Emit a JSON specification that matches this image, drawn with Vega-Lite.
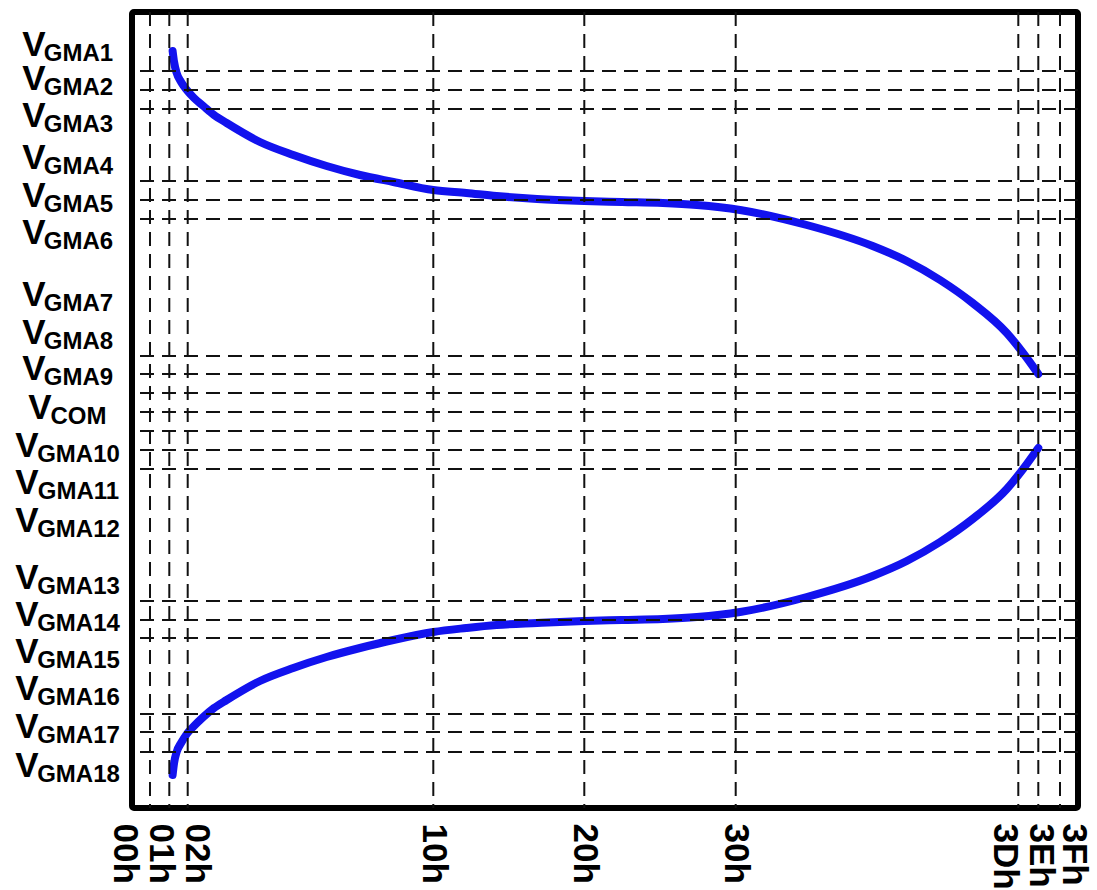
{
  "$schema": "https://vega.github.io/schema/vega-lite/v6.json",
  "width": 946,
  "height": 796,
  "autosize": "none",
  "padding": {"left": 132, "top": 12, "right": 19, "bottom": 82},
  "background": "white",
  "config": {
    "view": {"stroke": "#000000", "strokeWidth": 6, "cornerRadius": 2},
    "font": "Liberation Sans"
  },
  "datasets": {
    "curve": [
      {"branch": "upper", "code": 1.18, "v": 361},
      {"branch": "upper", "code": 1.26, "v": 350},
      {"branch": "upper", "code": 1.4, "v": 339},
      {"branch": "upper", "code": 1.64, "v": 330},
      {"branch": "upper", "code": 1.95, "v": 322},
      {"branch": "upper", "code": 2.36, "v": 314},
      {"branch": "upper", "code": 2.89, "v": 306},
      {"branch": "upper", "code": 3.5, "v": 297},
      {"branch": "upper", "code": 4.22, "v": 289},
      {"branch": "upper", "code": 6.12, "v": 270},
      {"branch": "upper", "code": 8.02, "v": 257},
      {"branch": "upper", "code": 9.92, "v": 246},
      {"branch": "upper", "code": 11.82, "v": 237},
      {"branch": "upper", "code": 13.72, "v": 230},
      {"branch": "upper", "code": 16, "v": 222},
      {"branch": "upper", "code": 19.5, "v": 219},
      {"branch": "upper", "code": 22.7, "v": 216},
      {"branch": "upper", "code": 27, "v": 213},
      {"branch": "upper", "code": 32, "v": 211},
      {"branch": "upper", "code": 36, "v": 210},
      {"branch": "upper", "code": 40.3, "v": 209},
      {"branch": "upper", "code": 43.9, "v": 207},
      {"branch": "upper", "code": 48.2, "v": 202},
      {"branch": "upper", "code": 51.27, "v": 187},
      {"branch": "upper", "code": 54.3, "v": 166},
      {"branch": "upper", "code": 55.87, "v": 151},
      {"branch": "upper", "code": 57.4, "v": 132},
      {"branch": "upper", "code": 58.9, "v": 109},
      {"branch": "upper", "code": 60.47, "v": 79},
      {"branch": "upper", "code": 61.24, "v": 59},
      {"branch": "upper", "code": 62, "v": 38},
      {"branch": "lower", "code": 1.18, "v": -363},
      {"branch": "lower", "code": 1.26, "v": -351},
      {"branch": "lower", "code": 1.4, "v": -340},
      {"branch": "lower", "code": 1.64, "v": -331},
      {"branch": "lower", "code": 1.95, "v": -322},
      {"branch": "lower", "code": 2.36, "v": -314},
      {"branch": "lower", "code": 2.89, "v": -305},
      {"branch": "lower", "code": 3.5, "v": -296},
      {"branch": "lower", "code": 4.22, "v": -288},
      {"branch": "lower", "code": 6.12, "v": -269},
      {"branch": "lower", "code": 8.02, "v": -256},
      {"branch": "lower", "code": 9.92, "v": -245},
      {"branch": "lower", "code": 11.82, "v": -236},
      {"branch": "lower", "code": 13.72, "v": -228},
      {"branch": "lower", "code": 16, "v": -220},
      {"branch": "lower", "code": 19.5, "v": -216},
      {"branch": "lower", "code": 22.7, "v": -213},
      {"branch": "lower", "code": 27, "v": -211},
      {"branch": "lower", "code": 32, "v": -209},
      {"branch": "lower", "code": 36, "v": -208},
      {"branch": "lower", "code": 40.3, "v": -207},
      {"branch": "lower", "code": 43.9, "v": -205},
      {"branch": "lower", "code": 48.2, "v": -200},
      {"branch": "lower", "code": 51.27, "v": -185},
      {"branch": "lower", "code": 54.3, "v": -164},
      {"branch": "lower", "code": 55.87, "v": -149},
      {"branch": "lower", "code": 57.4, "v": -130},
      {"branch": "lower", "code": 58.9, "v": -107},
      {"branch": "lower", "code": 60.47, "v": -77},
      {"branch": "lower", "code": 61.24, "v": -57},
      {"branch": "lower", "code": 62, "v": -36}
    ],
    "codes": [
      {"code": 0}, {"code": 1}, {"code": 2}, {"code": 16}, {"code": 32},
      {"code": 48}, {"code": 61}, {"code": 62}, {"code": 63}
    ],
    "levels": [
      {"v": 341}, {"v": 322}, {"v": 303}, {"v": 231}, {"v": 212}, {"v": 193},
      {"v": 56}, {"v": 38}, {"v": 19}, {"v": 0}, {"v": -19}, {"v": -38}, {"v": -57},
      {"v": -189}, {"v": -208}, {"v": -226}, {"v": -302}, {"v": -320}, {"v": -340}
    ]
  },
  "layer": [
    {
      "data": {"name": "curve"},
      "mark": {"type": "line", "color": "#1212ee", "strokeWidth": 8, "strokeCap": "round", "strokeJoin": "round", "interpolate": "monotone"},
      "encoding": {
        "x": {
          "field": "code",
          "type": "quantitative",
          "scale": {
            "domain": [0, 1, 2, 16, 32, 48, 61, 62, 63],
            "range": [18, 37.3, 55.7, 301.3, 452.3, 603.7, 886.3, 906.3, 928],
            "zero": false,
            "nice": false
          },
          "axis": {
            "values": [0, 1, 2, 16, 32, 48, 61, 62, 63],
            "labelExpr": "format(datum.value, '02X') + 'h'",
            "labelAngle": 90,
            "labelAlign": "left",
            "labelBaseline": "middle",
            "labelFont": "Liberation Sans",
            "labelFontWeight": "bold",
            "labelFontSize": 35,
            "labelColor": "#000000",
            "labelPadding": 15,
            "labelOverlap": false,
            "labelFlush": false,
            "labelBound": false,
            "labelOffset": {
              "condition": [
                {"test": "datum.value == 0", "value": -26},
                {"test": "datum.value == 1", "value": -9},
                {"test": "datum.value == 2", "value": 9},
                {"test": "datum.value == 61", "value": -14},
                {"test": "datum.value == 62", "value": 2},
                {"test": "datum.value == 63", "value": 13}
              ],
              "value": 0
            },
            "ticks": false,
            "tickSize": 0,
            "domain": false,
            "grid": false,
            "title": null
          }
        },
        "y": {
          "field": "v",
          "type": "quantitative",
          "scale": {"domain": [-396, 400], "zero": false, "nice": false},
          "axis": {
            "orient": "left",
            "values": [359, 325, 288, 246, 208, 171, 109, 71, 35, -4, -42, -79, -117, -174, -211, -248, -285, -323, -362],
            "labelExpr": "['GMA1','GMA2','GMA3','GMA4','GMA5','GMA6','GMA7','GMA8','GMA9','COM','GMA10','GMA11','GMA12','GMA13','GMA14','GMA15','GMA16','GMA17','GMA18'][indexof([359, 325, 288, 246, 208, 171, 109, 71, 35, -4, -42, -79, -117, -174, -211, -248, -285, -323, -362], datum.value)]",
            "labelAlign": "center",
            "labelBaseline": "middle",
            "labelFont": "Liberation Sans",
            "labelFontWeight": "bold",
            "labelFontSize": 24,
            "labelColor": "#000000",
            "labelPadding": 54,
            "labelOverlap": false,
            "labelBound": false,
            "labelFlush": false,
            "ticks": false,
            "tickSize": 0,
            "domain": false,
            "grid": false,
            "title": null
          }
        },
        "detail": {"field": "branch"}
      }
    },
    {
      "data": {"name": "codes"},
      "mark": {"type": "rule", "color": "#111111", "strokeWidth": 2, "strokeDash": [14, 8]},
      "encoding": {
        "x": {"field": "code", "type": "quantitative"}
      }
    },
    {
      "data": {"name": "levels"},
      "mark": {"type": "rule", "color": "#111111", "strokeWidth": 2, "strokeDash": [14, 8]},
      "encoding": {
        "y": {
          "field": "v",
          "type": "quantitative",
          "axis": {
            "orient": "left",
            "values": [359, 325, 288, 246, 208, 171, 109, 71, 35, -4, -42, -79, -117, -174, -211, -248, -285, -323, -362],
            "labelExpr": "'V'",
            "labelAlign": "right",
            "labelBaseline": "middle",
            "labelFont": "Liberation Sans",
            "labelFontWeight": "bold",
            "labelFontSize": 35,
            "labelColor": "#000000",
            "labelOffset": -9,
            "labelPadding": {
              "condition": [
                {"test": "datum.value < -30", "value": 94},
                {"test": "datum.value < 0", "value": 81}
              ],
              "value": 87
            },
            "labelOverlap": false,
            "labelBound": false,
            "labelFlush": false,
            "ticks": false,
            "tickSize": 0,
            "domain": false,
            "grid": false,
            "title": null
          }
        }
      }
    }
  ],
  "resolve": {"axis": {"y": "independent"}}
}
